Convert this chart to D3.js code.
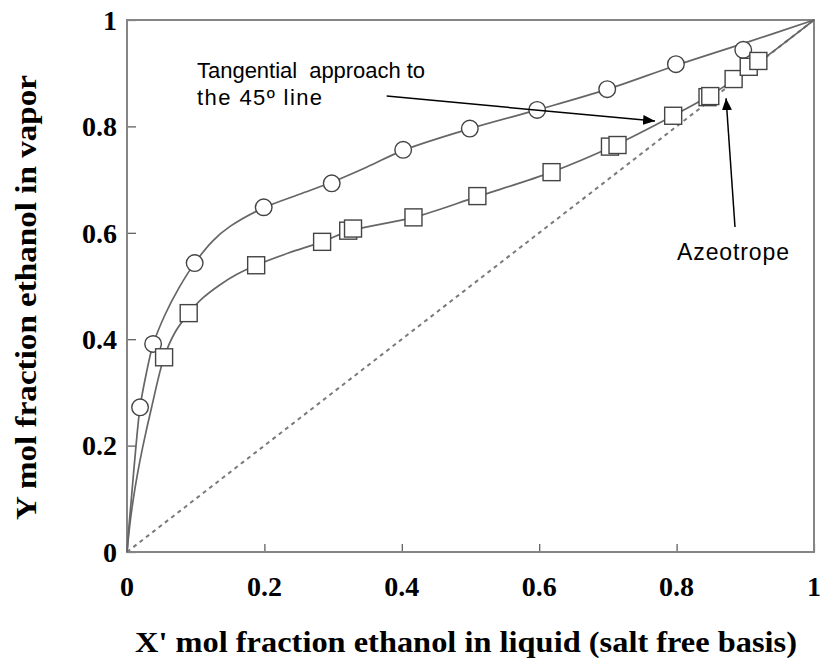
<!DOCTYPE html>
<html>
<head>
<meta charset="utf-8">
<script src="https://cdn.jsdelivr.net/npm/d3@7"></script>
<style>
  html, body { margin: 0; padding: 0; background: #fff; }
  svg { display: block; }
</style>
</head>
<body>
<svg id="chart" width="820" height="658"></svg>
<script>
// Measured equilibrium points (liquid x, vapour y), ethanol-water
const circleX = [0.019, 0.038, 0.0985, 0.199, 0.298, 0.402, 0.499, 0.597, 0.699, 0.799, 0.897];
const circleY = [0.272, 0.391, 0.543, 0.648, 0.693, 0.756, 0.796, 0.831, 0.870, 0.917, 0.944];

const squareX = [0.054, 0.0898, 0.188, 0.284, 0.322, 0.329, 0.417, 0.510, 0.618, 0.703, 0.714, 0.795, 0.845, 0.849, 0.883, 0.905, 0.919];
const squareY = [0.366, 0.449, 0.539, 0.583, 0.604, 0.608, 0.629, 0.669, 0.714, 0.762, 0.765, 0.820, 0.855, 0.857, 0.889, 0.912, 0.923];

// Smoothed fit curves through each data set
const circleFitX = [0, 0.003, 0.007, 0.013, 0.019, 0.028, 0.038, 0.055, 0.075, 0.0985, 0.125, 0.15, 0.199, 0.25, 0.298, 0.35, 0.402, 0.5, 0.6, 0.7, 0.8, 0.9, 1];
const circleFitY = [0, 0.05, 0.11, 0.198, 0.272, 0.335, 0.39, 0.445, 0.495, 0.543, 0.585, 0.612, 0.647, 0.672, 0.695, 0.724, 0.755, 0.796, 0.832, 0.87, 0.915, 0.957, 1];

const squareFitX = [0, 0.004, 0.009, 0.015, 0.023, 0.036, 0.054, 0.07, 0.09, 0.11, 0.135, 0.16, 0.188, 0.235, 0.284, 0.325, 0.417, 0.51, 0.618, 0.708, 0.795, 0.847, 0.883, 0.92, 0.96, 1];
const squareFitY = [0, 0.05, 0.098, 0.145, 0.198, 0.273, 0.366, 0.413, 0.449, 0.477, 0.502, 0.522, 0.539, 0.562, 0.583, 0.604, 0.629, 0.668, 0.714, 0.763, 0.82, 0.857, 0.887, 0.921, 0.96, 1];

// 45-degree reference line
const diagX = [0, 1];
const diagY = [0, 1];

const tickValues = [0, 0.2, 0.4, 0.6, 0.8, 1];
const tickLabels = ["0", "0.2", "0.4", "0.6", "0.8", "1"];

const xTitle = "X' mol fraction ethanol in liquid (salt free basis)";
const yTitle = "Y mol fraction ethanol in vapor";

// Annotation anchors, in data units
const noteTangentLines = ["Tangential  approach to", "the 45\u00BA line"];
const noteTangentPos = [0.102, 0.891];
const noteTangentArrow = [[0.378, 0.857], [0.7686, 0.810]];
const noteAzeoText = "Azeotrope";
const noteAzeoPos = [0.8006, 0.549];
const noteAzeoArrow = [[0.885, 0.611], [0.872, 0.853]];

const svg = d3.select("#chart");
const W = 820, H = 658;
const plot = { left: 127, right: 814, top: 20, bottom: 552 };

svg.append("rect").attr("width", W).attr("height", H).attr("fill", "#fff");

const x = d3.scaleLinear().domain([0, 1]).range([plot.left, plot.right]);
const y = d3.scaleLinear().domain([0, 1]).range([plot.bottom, plot.top]);

const defs = svg.append("defs");
defs.append("marker")
  .attr("id", "arrowhead")
  .attr("viewBox", "0 0 12 10")
  .attr("refX", 12).attr("refY", 5)
  .attr("markerWidth", 12).attr("markerHeight", 10)
  .attr("markerUnits", "userSpaceOnUse")
  .attr("orient", "auto")
  .append("path").attr("d", "M0,0 L12,5 L0,10 Z").attr("fill", "#000");

// Axes with inward ticks
const axisColor = "#858585";
const xAxis = d3.axisBottom(x).tickValues(tickValues).tickSize(-8).tickFormat("");
const yAxis = d3.axisLeft(y).tickValues(tickValues).tickSize(-9).tickFormat("");

const gx = svg.append("g").attr("transform", `translate(0,${plot.bottom})`).call(xAxis);
const gy = svg.append("g").attr("transform", `translate(${plot.left},0)`).call(yAxis);
[gx, gy].forEach(g => {
  g.select(".domain").remove();
  g.selectAll(".tick line").attr("stroke", "#555").attr("stroke-width", 1.2);
});

// Frame around plotting area
svg.append("rect")
  .attr("x", plot.left).attr("y", plot.top)
  .attr("width", plot.right - plot.left).attr("height", plot.bottom - plot.top)
  .attr("fill", "none").attr("stroke", axisColor).attr("stroke-width", 2);

// Tick labels
const tickFont = "'Liberation Serif', 'Times New Roman', serif";
svg.append("g").selectAll("text").data(tickValues).join("text")
  .attr("x", d => x(d)).attr("y", plot.bottom + 44)
  .attr("text-anchor", "middle")
  .attr("font-family", tickFont).attr("font-weight", "bold").attr("font-size", 28)
  .attr("fill", "#000")
  .text((d, i) => tickLabels[i]);

svg.append("g").selectAll("text").data(tickValues).join("text")
  .attr("x", plot.left - 10).attr("y", d => y(d)).attr("dy", "0.35em")
  .attr("text-anchor", "end")
  .attr("font-family", tickFont).attr("font-weight", "bold").attr("font-size", 28)
  .attr("fill", "#000")
  .text((d, i) => tickLabels[i]);

// Axis titles
svg.append("text")
  .attr("x", 135).attr("y", 652)
  .attr("textLength", 662).attr("lengthAdjust", "spacingAndGlyphs")
  .attr("font-family", tickFont).attr("font-weight", "bold").attr("font-size", 29)
  .attr("fill", "#000")
  .text(xTitle);

svg.append("text")
  .attr("transform", "translate(36,520) rotate(-90)")
  .attr("textLength", 445).attr("lengthAdjust", "spacingAndGlyphs")
  .attr("font-family", tickFont).attr("font-weight", "bold").attr("font-size", 29)
  .attr("fill", "#000")
  .text(yTitle);

// Diagonal
svg.append("line")
  .attr("x1", x(diagX[0])).attr("y1", y(diagY[0]))
  .attr("x2", x(diagX[1])).attr("y2", y(diagY[1]))
  .attr("stroke", "#7a7a7a").attr("stroke-width", 2)
  .attr("stroke-dasharray", "4,4");

// Fit curves
const line = d3.line().x(d => x(d[0])).y(d => y(d[1])).curve(d3.curveCatmullRom.alpha(0.5));
const curveColor = "#666";
svg.append("path")
  .datum(circleFitX.map((v, i) => [v, circleFitY[i]]))
  .attr("d", line).attr("fill", "none").attr("stroke", curveColor).attr("stroke-width", 1.7);
svg.append("path")
  .datum(squareFitX.map((v, i) => [v, squareFitY[i]]))
  .attr("d", line).attr("fill", "none").attr("stroke", curveColor).attr("stroke-width", 1.7);

// Markers
const markStroke = "#444";
svg.append("g").selectAll("circle").data(circleX.map((v, i) => [v, circleY[i]])).join("circle")
  .attr("cx", d => x(d[0])).attr("cy", d => y(d[1])).attr("r", 8.3)
  .attr("fill", "#fff").attr("stroke", markStroke).attr("stroke-width", 1.4);

const sq = 17;
svg.append("g").selectAll("rect").data(squareX.map((v, i) => [v, squareY[i]])).join("rect")
  .attr("x", d => x(d[0]) - sq / 2).attr("y", d => y(d[1]) - sq / 2)
  .attr("width", sq).attr("height", sq)
  .attr("fill", "#fff").attr("stroke", markStroke).attr("stroke-width", 1.4);

// Annotations
const noteFont = "'Liberation Sans', Arial, sans-serif";
const noteLens = [228, 125];
const tNote = svg.append("text")
  .attr("font-family", noteFont).attr("font-size", 22).attr("fill", "#000")
  .attr("xml:space", "preserve");
noteTangentLines.forEach((s, i) => {
  tNote.append("tspan")
    .attr("x", x(noteTangentPos[0]))
    .attr("y", y(noteTangentPos[1]) + i * 26.6)
    .attr("textLength", noteLens[i])
    .text(s);
});
svg.append("line")
  .attr("x1", x(noteTangentArrow[0][0])).attr("y1", y(noteTangentArrow[0][1]))
  .attr("x2", x(noteTangentArrow[1][0])).attr("y2", y(noteTangentArrow[1][1]))
  .attr("stroke", "#000").attr("stroke-width", 1.5)
  .attr("marker-end", "url(#arrowhead)");

svg.append("text")
  .attr("x", x(noteAzeoPos[0])).attr("y", y(noteAzeoPos[1]))
  .attr("font-family", noteFont).attr("font-size", 23).attr("fill", "#000")
  .attr("textLength", 112)
  .text(noteAzeoText);
svg.append("line")
  .attr("x1", x(noteAzeoArrow[0][0])).attr("y1", y(noteAzeoArrow[0][1]))
  .attr("x2", x(noteAzeoArrow[1][0])).attr("y2", y(noteAzeoArrow[1][1]))
  .attr("stroke", "#000").attr("stroke-width", 1.5)
  .attr("marker-end", "url(#arrowhead)");
</script>
</body>
</html>
